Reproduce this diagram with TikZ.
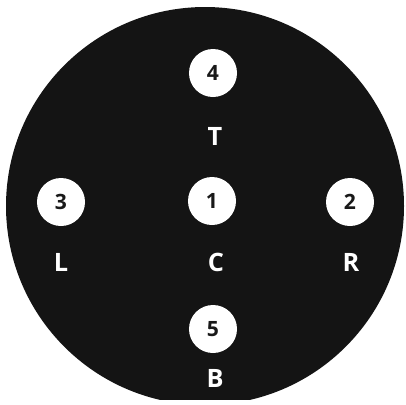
\documentclass[tikz,border=0pt]{standalone}
\usepackage{fontspec}
\setmainfont{Open Sans}
\usepackage{tikz}

\begin{document}
\begin{tikzpicture}[x=0.025cm,y=-0.025cm,every node/.style={inner sep=0pt},
  hole/.style={circle,fill=white,minimum size=1.2cm,text=black!90,font=\fontsize{15}{15}\selectfont\bfseries},
  tag/.style={text=white,font=\fontsize{18}{18}\selectfont\bfseries}]
\useasboundingbox (0,0) rectangle (406,404);
\begin{scope}
\clip (0,0) rectangle (406,399);
\fill[black!92] (205,206) circle (199);
\end{scope}
\node[hole] (p4) at (213,73) {4};
\node[hole] (p3) at (61,202) {3};
\node[hole] (p1) at (212,201) {1};
\node[hole] (p2) at (350,202) {2};
\node[hole] (p5) at (213,329) {5};
\node[tag] (t) at (215,136) {T};
\node[tag] (l) at (61,262) {L};
\node[tag] (c) at (216,262) {C};
\node[tag] (r) at (351,262) {R};
\node[tag] (b) at (215,378) {B};
\end{tikzpicture}
\end{document}
